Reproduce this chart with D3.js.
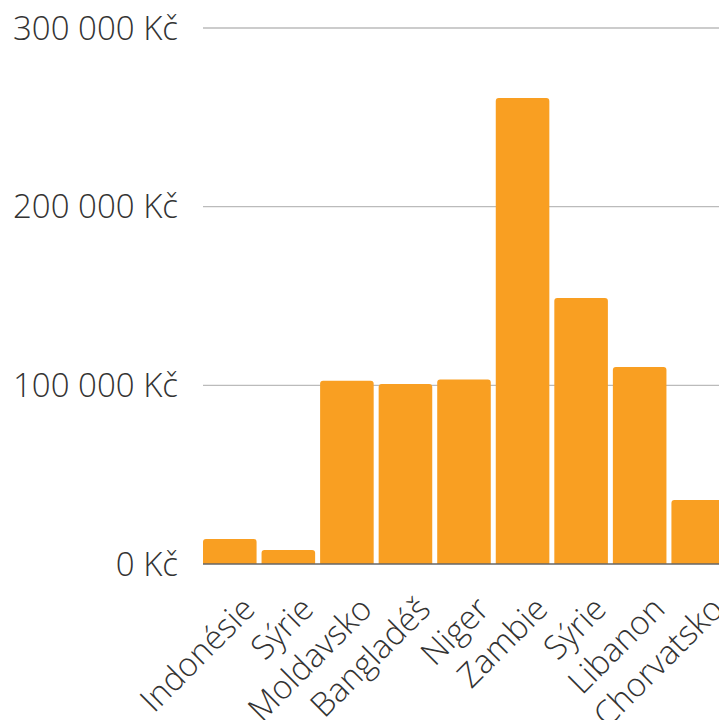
<!DOCTYPE html>
<html>
<head>
<meta charset="utf-8">
<script src="https://cdn.jsdelivr.net/npm/d3@7"></script>
<style>
  body { margin: 0; background: #fff; }
  text { font-family: "Open Sans", sans-serif; font-weight: 300; fill: #333; }
</style>
</head>
<body>
<div id="chart"></div>
<script>
// countries and amounts (Kč)
const countries = ["Indonésie", "Sýrie", "Moldavsko", "Bangladéš", "Niger", "Zambie", "Sýrie ", "Libanon", "Chorvatsko"];
const amounts = [14000, 7800, 102600, 100700, 103300, 260800, 148900, 110200, 35800];
const yTicks = [0, 100000, 200000, 300000];

const dataset = countries.map(function(c, i) { return {name: c, value: amounts[i]}; });

const width = 719, height = 720;
const margin = {top: 28, left: 203, bottom: 156};
const h = height - margin.top - margin.bottom;
const w = 522;

const svg = d3.select("#chart").append("svg")
    .attr("width", width)
    .attr("height", height);

const g = svg.append("g")
    .attr("transform", `translate(${margin.left},${margin.top})`);

const x = d3.scaleBand()
    .domain(countries)
    .range([0, w])
    .paddingInner(0.085)
    .paddingOuter(0)
    .align(0);

const y = d3.scaleLinear()
    .domain([0, 300000])
    .range([h, 0]);

// gridlines
g.selectAll(".grid")
  .data(yTicks.slice(1))
  .enter()
  .append("line")
    .attr("x1", 0)
    .attr("x2", width)
    .attr("y1", d => y(d))
    .attr("y2", d => y(d))
    .attr("stroke", "#bbb")
    .attr("stroke-width", 1.3);

// y labels
g.selectAll(".ylab")
  .data(yTicks)
  .enter()
  .append("text")
    .attr("x", -25)
    .attr("y", d => y(d))
    .attr("dy", "0.35em")
    .attr("text-anchor", "end")
    .style("font-size", "33px")
    .text(d => d3.format(",")(d).replace(/,/g, " ") + " Kč");

// bars with rounded top corners
function barPath(d) {
  const x0 = x(d.name), bw = x.bandwidth();
  const y0 = y(d.value), y1 = y(0);
  const r = Math.min(3, (y1 - y0) / 2);
  return `M${x0},${y1} V${y0 + r} Q${x0},${y0} ${x0 + r},${y0} H${x0 + bw - r} Q${x0 + bw},${y0} ${x0 + bw},${y0 + r} V${y1} Z`;
}

g.selectAll(".bar")
  .data(dataset)
  .enter()
  .append("path")
    .attr("d", barPath)
    .attr("fill", "#f99f22");

// baseline
g.append("line")
    .attr("x1", 0)
    .attr("x2", width)
    .attr("y1", y(0))
    .attr("y2", y(0))
    .attr("stroke", "#666")
    .attr("stroke-width", 1.3);

// x labels rotated
g.selectAll(".xlab")
  .data(dataset)
  .enter()
  .append("text")
    .attr("text-anchor", "end")
    .attr("transform", d => `translate(${x(d.name) + x.bandwidth() / 2 + 27},${h + 47}) rotate(-45)`)
    .style("font-size", "33px")
    .text(d => d.name.trim());
</script>
</body>
</html>
